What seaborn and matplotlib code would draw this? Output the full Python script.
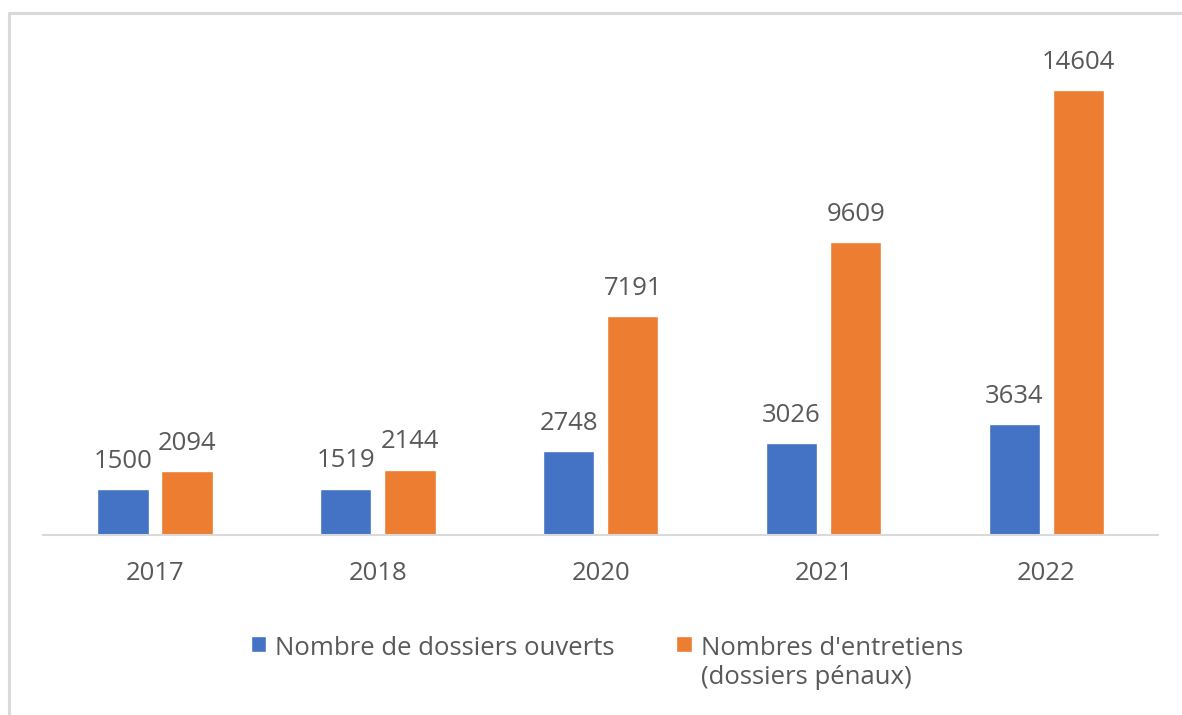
import matplotlib
matplotlib.use("Agg")
from matplotlib import pyplot as plt
from matplotlib.lines import Line2D
import pandas as pd
import seaborn as sns

# ==============================================================================
# DATA
# ==============================================================================
years = ["2017", "2018", "2020", "2021", "2022"]
dossiers_ouverts = [1500, 1519, 2748, 3026, 3634]
entretiens = [2094, 2144, 7191, 9609, 14604]
series_names = ["Nombre de dossiers ouverts", "Nombres d'entretiens\n(dossiers pénaux)"]
bar_colors = ["#4472C4", "#ED7D31"]

df = pd.DataFrame({
    "year": years * 2,
    "value": dossiers_ouverts + entretiens,
    "series": [series_names[0]] * len(years) + [series_names[1]] * len(years),
})

# ==============================================================================
# STYLE
# ==============================================================================
sns.set_theme(style="white")
plt.rcParams["font.family"] = ["Open Sans", "DejaVu Sans"]
TEXT_GREY = "#595959"
LINE_GREY = "#D9D9D9"
FS = 18.5

# ==============================================================================
# PLOT
# ==============================================================================
fig = plt.figure(figsize=(11.82, 7.15), dpi=100)
ax = fig.add_axes([43.5 / 1182, 180 / 715, 1114.5 / 1182, 487.6 / 715])

sns.barplot(
    data=df, x="year", y="value", hue="series",
    palette=bar_colors, saturation=1, width=0.575, gap=0.2, ax=ax,
)

for container in ax.containers:
    ax.bar_label(container, padding=11, fontsize=FS, color=TEXT_GREY)

ax.set_ylim(0, 16000)
ax.set_xlabel("")
ax.set_ylabel("")
ax.set_yticks([])
for side in ["left", "right", "top"]:
    ax.spines[side].set_visible(False)
ax.spines["bottom"].set_color(LINE_GREY)
ax.spines["bottom"].set_linewidth(1.5)
ax.tick_params(axis="x", length=0, pad=19, labelsize=FS, labelcolor=TEXT_GREY)

# legend below the plot, handle aligned with first line of each label
handles, labels = ax.get_legend_handles_labels()
ax.get_legend().remove()
leg = fig.legend(
    handles, labels, loc="upper center", bbox_to_anchor=(607 / 1182, 1 - 613 / 715),
    ncol=2, frameon=False, fontsize=FS, labelcolor=TEXT_GREY,
    handlelength=0.6, handleheight=0.6, handletextpad=0.35, columnspacing=2.4,
)
leg._legend_handle_box.align = "top"
for col in leg._legend_handle_box.get_children():
    col.align = "top"
    for item in col.get_children():
        item.align = "top"

# light grey frame on the left and top edges
fig.add_artist(Line2D([0.0075, 1.0], [1 - 12.5 / 715] * 2, color=LINE_GREY, lw=2.2, transform=fig.transFigure))
fig.add_artist(Line2D([0.0075] * 2, [0.0, 1 - 12.5 / 715], color=LINE_GREY, lw=2.2, transform=fig.transFigure))

fig.savefig("out.png", dpi=100, facecolor="white")
